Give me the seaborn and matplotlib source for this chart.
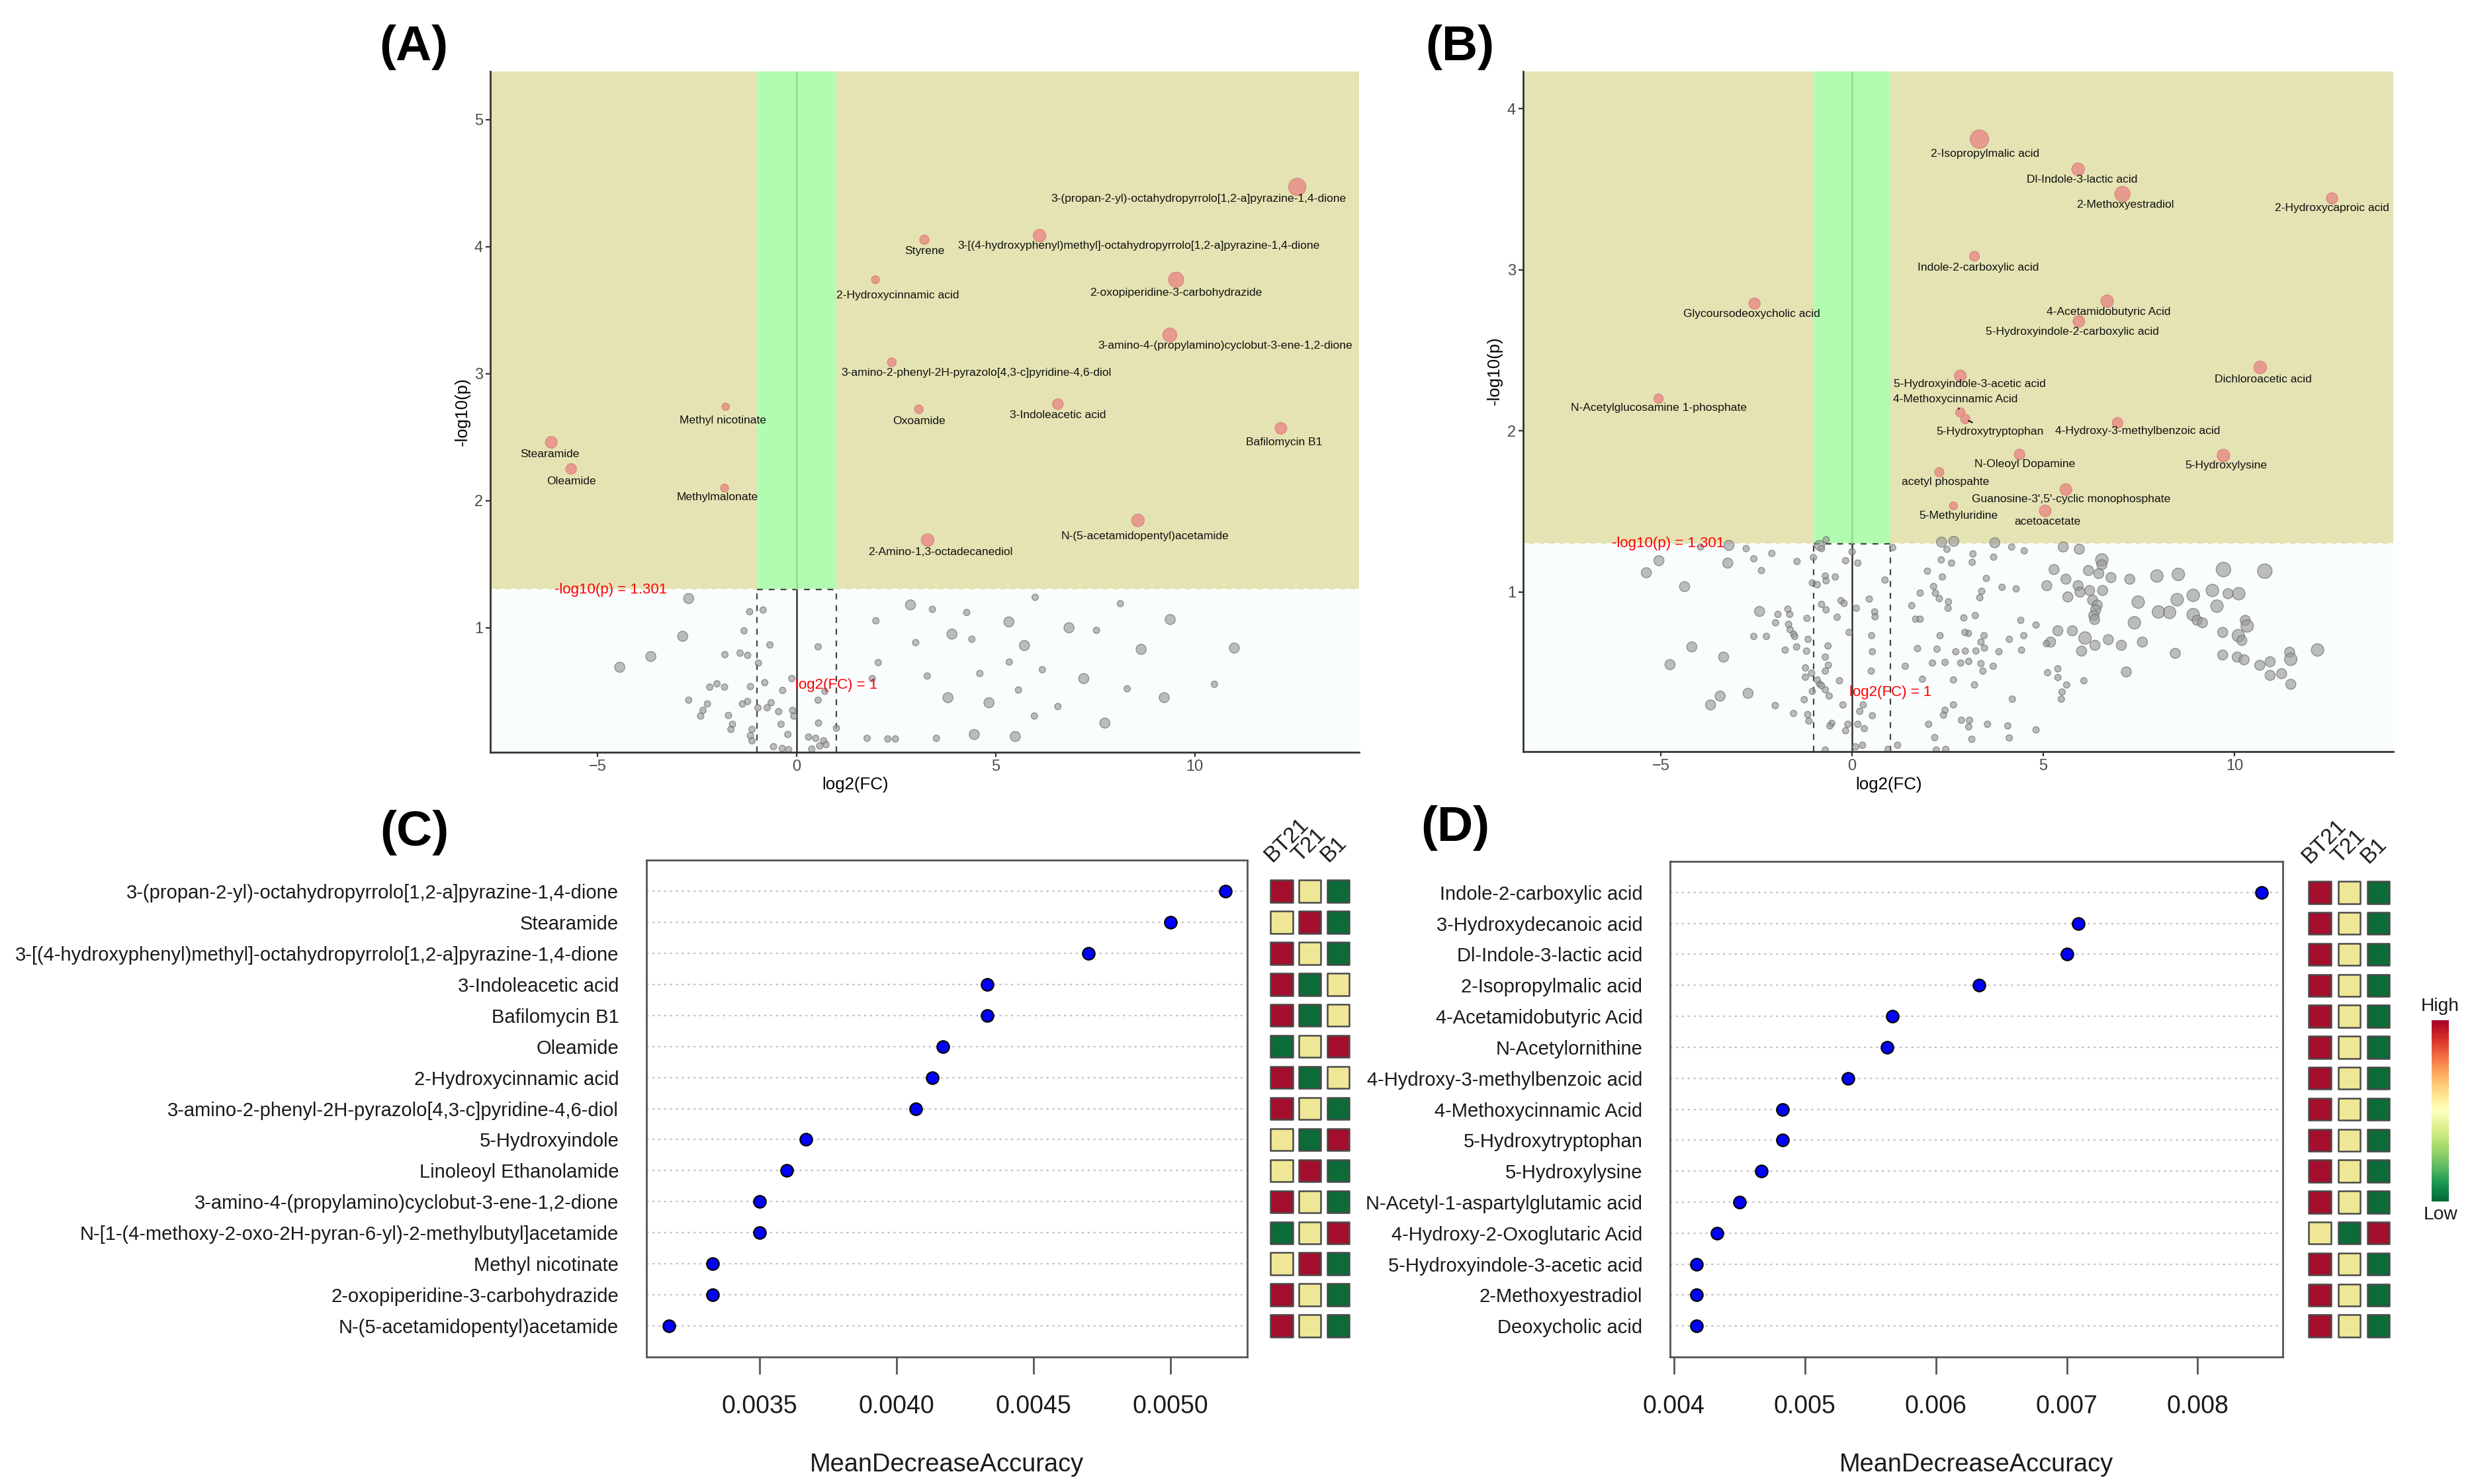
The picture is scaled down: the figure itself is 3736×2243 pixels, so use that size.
import pandas as pd
import matplotlib
matplotlib.use("Agg")
import matplotlib as mpl
import matplotlib.pyplot as plt
import seaborn as sns
from matplotlib.patches import Rectangle
from matplotlib.ticker import FormatStrFormatter

sns.set_theme(style="white")
plt.rcParams["font.family"] = ["Liberation Sans", "DejaVu Sans"]

fc_cut = 1.0
p_cut = 1.301

# ---------------- (A) volcano: significant metabolites ----------------
a_names = ["3-(propan-2-yl)-octahydropyrrolo[1,2-a]pyrazine-1,4-dione",
           "3-[(4-hydroxyphenyl)methyl]-octahydropyrrolo[1,2-a]pyrazine-1,4-dione",
           "Styrene", "2-Hydroxycinnamic acid", "2-oxopiperidine-3-carbohydrazide",
           "3-amino-4-(propylamino)cyclobut-3-ene-1,2-dione",
           "3-amino-2-phenyl-2H-pyrazolo[4,3-c]pyridine-4,6-diol",
           "Methyl nicotinate", "Oxoamide", "3-Indoleacetic acid", "Bafilomycin B1",
           "Stearamide", "Oleamide", "Methylmalonate",
           "N-(5-acetamidopentyl)acetamide", "2-Amino-1,3-octadecanediol"]
a_fc = [12.57, 6.10, 3.21, 1.98, 9.53, 9.37, 2.39, -1.78, 3.07, 6.56, 12.16,
        -6.16, -5.66, -1.81, 8.57, 3.29]
a_logp = [4.47, 4.087, 4.055, 3.74, 3.74, 3.305, 3.09, 2.74, 2.72, 2.76, 2.57,
          2.46, 2.25, 2.10, 1.845, 1.69]
a_size = [4.9, 2.84, 1.77, 1.43, 3.9, 3.35, 1.6, 1.3, 1.6, 2.15, 2.5, 2.5, 2.15,
          1.43, 2.84, 2.84]
# label offsets in points (layout)
a_dx = [-53.6, 54, 0, 12.2, 0, 30, 46, -1.4, 0, 0, 1.8, -0.7, 0, -4, 4, 6.8]
a_dy = [-6.6, -5.4, -6.1, -8.4, -7, -5.9, -5.8, -7.6, -6.4, -5.9, -7.5, -6.5,
        -6.8, -5, -8.6, -6.7]

# (A) non-significant metabolites
a_gray_fc = [-2.71, -1.18, -0.84, -1.32, -2.86, -0.67, -3.66, -4.44, -1.80, -1.42,
             -1.23, -0.96, -2.18, -2.00, -1.81, -1.16, -0.80, -0.35, -0.12, -2.71,
             -2.24, -2.35, -2.41, -1.71, -1.36, -1.23, -0.97, -0.74, -0.64, -0.45,
             -0.10, -0.07, -1.61, -1.65, -1.12, -0.39, -1.16, -1.12, -0.22, -0.58,
             -0.36, -0.20, 0.30, 0.48, 0.68, 0.58, 0.38, 0.74, 1.00, 0.55,
             0.54, 0.54, 0.71, 1.77, 2.29, 2.48, 3.51, 4.46, 5.49, 1.99,
             2.05, 1.90, 2.86, 3.41, 2.99, 3.28, 3.80, 3.90, 4.27, 4.40,
             4.60, 4.83, 5.33, 5.34, 5.72, 5.57, 5.99, 5.97, 6.17, 6.56,
             6.84, 7.21, 7.53, 7.74, 8.13, 8.30, 8.65, 9.23, 9.38, 10.49, 10.99]
a_gray_logp = [1.23, 1.126, 1.14, 0.976, 0.933, 0.865, 0.774, 0.689, 0.789, 0.80,
               0.783, 0.722, 0.533, 0.559, 0.533, 0.537, 0.568, 0.507, 0.60, 0.43,
               0.40, 0.35, 0.305, 0.31, 0.40, 0.42, 0.37, 0.37, 0.41, 0.34,
               0.35, 0.305, 0.24, 0.20, 0.20, 0.24, 0.15, 0.11, 0.16, 0.064,
               0.05, 0.04, 0.14, 0.13, 0.11, 0.07, 0.045, 0.08, 0.21, 0.25,
               0.43, 0.85, 0.50, 0.13, 0.125, 0.125, 0.13, 0.16, 0.144, 1.055,
               0.726, 0.60, 1.18, 1.145, 0.883, 0.62, 0.45, 0.95, 1.12, 0.91,
               0.64, 0.41, 1.046, 0.73, 0.86, 0.51, 1.24, 0.305, 0.67, 0.38,
               1.0, 0.60, 0.98, 0.25, 1.19, 0.52, 0.83, 0.45, 1.065, 0.555, 0.84]
a_gray_size = [2, 1, 1, 1, 2, 1, 2, 2, 1, 1,
               1, 1, 1, 1, 1, 1, 1, 1, 1, 1,
               1, 1, 1, 1, 1, 1, 1, 1, 1, 1,
               1, 1, 1, 1, 1, 1, 1, 1, 1, 1,
               1, 1, 1, 1, 1, 1, 1, 1, 1, 1,
               1, 1, 1, 1, 1, 1, 1, 2, 2, 1,
               1, 1, 2, 1, 1, 1, 2, 2, 1, 1,
               1, 2, 2, 1, 2, 1, 1, 1, 1, 1,
               2, 2, 1, 2, 1, 1, 2, 2, 2, 1, 2]

# ---------------- (B) volcano: significant metabolites ----------------
b_names = ["2-Isopropylmalic acid", "Dl-Indole-3-lactic acid", "2-Methoxyestradiol",
           "2-Hydroxycaproic acid", "Indole-2-carboxylic acid",
           "Glycoursodeoxycholic acid", "4-Acetamidobutyric Acid",
           "5-Hydroxyindole-2-carboxylic acid", "Dichloroacetic acid",
           "5-Hydroxyindole-3-acetic acid", "4-Methoxycinnamic Acid",
           "N-Acetylglucosamine 1-phosphate", "5-Hydroxytryptophan",
           "4-Hydroxy-3-methylbenzoic acid", "N-Oleoyl Dopamine", "5-Hydroxylysine",
           "acetyl phospahte", "Guanosine-3',5'-cyclic monophosphate",
           "5-Methyluridine", "acetoacetate"]
b_fc = [3.33, 5.91, 7.07, 12.55, 3.20, -2.55, 6.67, 5.93, 10.67, 2.83, 2.83,
        -5.06, 2.96, 6.94, 4.38, 9.71, 2.28, 5.59, 2.65, 5.05]
b_logp = [3.81, 3.624, 3.47, 3.443, 3.084, 2.79, 2.805, 2.68, 2.394, 2.342, 2.115,
          2.20, 2.074, 2.05, 1.854, 1.847, 1.744, 1.636, 1.535, 1.504]
b_size = [5.5, 2.84, 3.9, 2.35, 1.9, 2.35, 2.84, 2.5, 2.84, 2.5, 1.77, 1.77, 1.77,
          2.15, 2.15, 2.84, 1.77, 2.5, 1.43, 2.5]
b_dx = [3.1, 2.2, 1.3, 0, 1.9, -1.6, 0.6, -3.5, 1.6, 5, -2.8, 0, 13.5, 11, 2.8,
        1.3, 3.5, 2.8, 2.8, 1.3]
b_dy = [-7.8, -5.8, -5.7, -5.4, -6.2, -5.8, -5.8, -5.8, -6.4, -4.5, 7.1, -5.1,
        -6.8, -4.6, -5.4, -5.5, -5.4, -5.4, -5.5, -5.8]
b_linked = ["4-Methoxycinnamic Acid", "5-Hydroxytryptophan"]

# (B) non-significant metabolites
b_gray_fc = [-0.68, -0.85, -0.80, -3.22, -2.77, -3.96, -2.10, -2.57, -3.25, -5.05,
             -5.38, -2.37, -1.44, -1.01, -4.38, -0.17, 0.15, 0.00, 1.06, 2.34,
             2.66, 2.48, 3.73, 4.17, 4.50, 5.52, 5.94, 3.16, 3.70, 2.33,
             2.60, 3.14, 6.53, 6.53, 5.28, 6.18, 6.45, 6.77, 7.26, 7.97,
             8.53, 9.71, 10.79, 1.97, 2.36, 3.51, 5.59, 5.09, 5.91, 6.21,
             6.55, 5.96, 5.64, 3.92, 4.29, 3.39, 2.13, 1.78, 2.18, 2.28,
             2.52, 3.34, 9.42, 9.83, 10.11, 8.92, 8.50, 7.48, 9.54, 6.29,
             6.41, 6.37, 6.32, 6.34, 8.01, 8.30, 8.92, 9.02, 9.16, 7.38,
             10.28, 10.33, 9.69, 10.10, 10.19, 8.45, 9.69, 10.07, 10.25, 10.66,
             10.93, 11.44, 11.47, 12.17, 10.93, 11.23, 11.47, 7.17, 7.59, 7.04,
             6.70, 6.09, 6.35, 6.00, 5.76, 5.38, 5.19, 5.08, 4.81, 4.41,
             4.49, 4.11, 4.43, 3.84, 3.46, 3.45, 3.04, 2.95, 2.71, 2.96,
             3.24, 2.30, 2.22, 1.71, 2.10, 2.43, 2.84, 3.37, 3.69, 3.42,
             3.05, 1.39, 1.84, 2.65, 3.20, 5.11, 5.38, 5.38, 5.61, 6.06,
             5.49, 5.47, 4.19, 4.81, 4.07, 4.11, 3.54, 3.07, 2.86, 3.05,
             3.13, 2.65, 2.43, 2.39, 2.00, 2.16, 2.20, 2.45, 1.19, 0.94,
             0.29, 0.20, 0.53, 0.15, 0.32, 0.09, 0.27, -0.24, -0.70, -0.53,
             -0.58, -0.17, -0.11, -0.60, -0.70, -0.85, -1.04, -1.25, -1.16, -1.13,
             -1.53, -2.01, -2.72, -3.45, -3.70, -1.22, -1.06, -0.80, -0.91, -0.70,
             -0.33, 0.50, -1.22, -4.76, -3.36, -4.19, -1.75, -1.45, -1.19, -1.15,
             -0.63, -0.70, -0.62, -2.57, -2.24, -1.53, -1.50, -1.62, -1.66, -2.00,
             -1.94, -1.63, -1.68, -2.42, -1.18, -0.39, -0.68, -0.80, -0.29, -0.21,
             0.45, 0.11, 0.59, 0.60, 0.51, -0.08, 0.53, -0.70, -0.44, -0.68,
             -1.04, -0.91, 0.86, 1.56, 1.66, 1.78, 2.51, 2.92, 3.22, 3.37]
b_gray_logp = [1.325, 1.29, 1.27, 1.29, 1.27, 1.28, 1.24, 1.207, 1.18, 1.195,
               1.12, 1.134, 1.19, 1.215, 1.034, 1.195, 1.18, 1.25, 1.276, 1.31,
               1.315, 1.266, 1.306, 1.28, 1.256, 1.28, 1.266, 1.237, 1.217, 1.20,
               1.18, 1.185, 1.20, 1.17, 1.14, 1.134, 1.115, 1.09, 1.08, 1.10,
               1.11, 1.14, 1.13, 1.13, 1.094, 1.085, 1.08, 1.04, 1.04, 1.01,
               1.01, 1.00, 0.97, 1.03, 1.02, 1.005, 1.035, 0.994, 0.994, 0.96,
               0.94, 0.965, 1.01, 0.99, 0.99, 0.98, 0.953, 0.938, 0.913, 0.95,
               0.92, 0.89, 0.855, 0.83, 0.877, 0.874, 0.86, 0.825, 0.81, 0.81,
               0.825, 0.79, 0.75, 0.73, 0.70, 0.62, 0.61, 0.597, 0.58, 0.546,
               0.568, 0.627, 0.583, 0.641, 0.483, 0.494, 0.428, 0.505, 0.69, 0.67,
               0.705, 0.715, 0.67, 0.634, 0.76, 0.76, 0.69, 0.68, 0.796, 0.825,
               0.73, 0.707, 0.64, 0.63, 0.653, 0.73, 0.744, 0.75, 0.63, 0.634,
               0.635, 0.73, 0.646, 0.65, 0.56, 0.564, 0.56, 0.556, 0.54, 0.51,
               0.57, 0.54, 0.46, 0.455, 0.424, 0.50, 0.524, 0.47, 0.424, 0.45,
               0.38, 0.336, 0.336, 0.145, 0.17, 0.095, 0.18, 0.205, 0.205, 0.164,
               0.087, 0.30, 0.267, 0.237, 0.18, 0.097, 0.02, 0.024, 0.05, 0.024,
               0.30, 0.26, 0.233, 0.18, 0.153, 0.04, 0.05, 0.30, 0.02, 0.186,
               0.17, 0.14, 0.18, 0.355, 0.394, 0.43, 0.384, 0.333, 0.24, 0.20,
               0.247, 0.296, 0.372, 0.355, 0.30, 0.472, 0.497, 0.42, 0.455, 0.51,
               0.45, 0.51, 0.53, 0.55, 0.597, 0.66, 0.64, 0.66, 0.634, 0.707,
               0.666, 0.597, 0.546, 0.725, 0.725, 0.74, 0.725, 0.767, 0.80, 0.81,
               0.862, 0.862, 0.894, 0.88, 0.837, 0.844, 0.89, 0.924, 0.947, 0.93,
               0.957, 0.90, 0.877, 0.847, 0.73, 0.75, 0.63, 1.10, 1.094, 1.07,
               1.057, 1.046, 1.075, 0.916, 0.832, 0.832, 0.90, 0.84, 0.855, 0.69]
b_gray_size = [1, 2, 1, 2, 1, 1, 1, 1, 2, 2,
               2, 1, 1, 1, 2, 1, 1, 1, 1, 2,
               2, 1, 2, 1, 1, 2, 2, 1, 1, 1,
               1, 1, 3, 2, 2, 2, 2, 2, 2, 3,
               3, 4, 4, 1, 1, 1, 2, 2, 2, 2,
               2, 2, 2, 1, 1, 1, 1, 1, 1, 1,
               1, 1, 3, 2, 3, 3, 3, 3, 3, 2,
               2, 2, 2, 2, 3, 3, 3, 2, 2, 3,
               2, 3, 2, 3, 2, 2, 2, 2, 2, 2,
               2, 2, 3, 3, 2, 2, 2, 2, 2, 2,
               2, 3, 2, 2, 2, 2, 2, 1, 1, 1,
               1, 1, 1, 1, 1, 1, 1, 1, 1, 1,
               1, 1, 1, 1, 1, 1, 1, 1, 1, 1,
               1, 1, 1, 1, 1, 1, 1, 1, 1, 1,
               1, 1, 1, 1, 1, 1, 1, 1, 1, 1,
               1, 1, 1, 1, 1, 1, 1, 1, 1, 1,
               1, 1, 1, 1, 1, 1, 1, 1, 1, 1,
               1, 1, 1, 1, 1, 1, 1, 1, 1, 1,
               1, 1, 2, 2, 2, 1, 1, 1, 1, 1,
               1, 1, 1, 2, 2, 2, 1, 1, 1, 1,
               1, 1, 1, 1, 1, 1, 1, 1, 1, 1,
               1, 1, 1, 2, 1, 1, 1, 1, 1, 1,
               1, 1, 1, 1, 1, 1, 1, 1, 1, 1,
               1, 1, 1, 1, 1, 1, 1, 1, 1, 1]

# ---------------- (C) random forest importance ----------------
c_names = ["3-(propan-2-yl)-octahydropyrrolo[1,2-a]pyrazine-1,4-dione", "Stearamide",
           "3-[(4-hydroxyphenyl)methyl]-octahydropyrrolo[1,2-a]pyrazine-1,4-dione",
           "3-Indoleacetic acid", "Bafilomycin B1", "Oleamide", "2-Hydroxycinnamic acid",
           "3-amino-2-phenyl-2H-pyrazolo[4,3-c]pyridine-4,6-diol", "5-Hydroxyindole",
           "Linoleoyl Ethanolamide", "3-amino-4-(propylamino)cyclobut-3-ene-1,2-dione",
           "N-[1-(4-methoxy-2-oxo-2H-pyran-6-yl)-2-methylbutyl]acetamide",
           "Methyl nicotinate", "2-oxopiperidine-3-carbohydrazide",
           "N-(5-acetamidopentyl)acetamide"]
c_mda = [0.00520, 0.00500, 0.00470, 0.00433, 0.00433, 0.00417, 0.00413, 0.00407,
         0.00367, 0.00360, 0.00350, 0.00350, 0.00333, 0.00333, 0.00317]
# relative level per group: 1 high, 0 mid, -1 low
c_bt21 = [1, 0, 1, 1, 1, -1, 1, 1, 0, 0, 1, -1, 0, 1, 1]
c_t21 = [0, 1, 0, -1, -1, 0, -1, 0, -1, 1, 0, 0, 1, 0, 0]
c_b1 = [-1, -1, -1, 0, 0, 1, 0, -1, 1, -1, -1, 1, -1, -1, -1]

# ---------------- (D) random forest importance ----------------
d_names = ["Indole-2-carboxylic acid", "3-Hydroxydecanoic acid", "Dl-Indole-3-lactic acid",
           "2-Isopropylmalic acid", "4-Acetamidobutyric Acid", "N-Acetylornithine",
           "4-Hydroxy-3-methylbenzoic acid", "4-Methoxycinnamic Acid",
           "5-Hydroxytryptophan", "5-Hydroxylysine", "N-Acetyl-1-aspartylglutamic acid",
           "4-Hydroxy-2-Oxoglutaric Acid", "5-Hydroxyindole-3-acetic acid",
           "2-Methoxyestradiol", "Deoxycholic acid"]
d_mda = [0.00849, 0.00709, 0.00700, 0.00633, 0.00567, 0.00563, 0.00533, 0.00483,
         0.00483, 0.00467, 0.00450, 0.00433, 0.00417, 0.00417, 0.00417]
d_bt21 = [1, 1, 1, 1, 1, 1, 1, 1, 1, 1, 1, 0, 1, 1, 1]
d_t21 = [0, 0, 0, 0, 0, 0, 0, 0, 0, 0, 0, -1, 0, 0, 0]
d_b1 = [-1, -1, -1, -1, -1, -1, -1, -1, -1, -1, -1, 1, -1, -1, -1]

groups = ["BT21", "T21", "B1"]
level_names = {1: "High", 0: "Mid", -1: "Low"}
heat_colors = {"High": "#A30F2C", "Mid": "#EFE795", "Low": "#0C6B37"}
gray_sizes = {1: 12, 2: 30, 3: 46, 4: 62}


def volcano(ax, sig, ns, dx, dy, xlim, ylim, yticks, linked=()):
    x0, x1 = xlim
    y0, y1 = ylim
    ax.axhspan(p_cut, y1, color="#E5E3B3", lw=0, zorder=0)
    ax.axhspan(y0, p_cut, color="#FAFDFE", lw=0, zorder=0)
    ax.add_patch(Rectangle((-fc_cut, p_cut), 2 * fc_cut, y1 - p_cut,
                           color="#B2FCB1", lw=0, zorder=0.5))
    ax.hlines(p_cut, x0, x1, colors="white", linestyles=(0, (4, 3)), lw=0.8, zorder=1)
    ax.vlines([-fc_cut, fc_cut], y0, p_cut, colors="#444444",
              linestyles=(0, (4, 4)), lw=0.8, zorder=1)
    ax.hlines(p_cut, -fc_cut, fc_cut, colors="#444444",
              linestyles=(0, (4, 4)), lw=0.8, zorder=1)
    ax.vlines(0, y0, p_cut, colors="#333333", lw=0.9, zorder=1)
    ax.vlines(0, p_cut, y1, colors="#8FDA8F", lw=0.9, zorder=1)

    sns.scatterplot(data=ns, x="fc", y="logp", size="sz", sizes=gray_sizes,
                    color="#9A9A9A", alpha=0.65, edgecolor="#6A6A6A", linewidth=0.5,
                    legend=False, ax=ax, zorder=2)
    sns.scatterplot(data=sig, x="fc", y="logp", size="sz", sizes=(10, 110),
                    size_norm=(1, 6), color="#E8948A", alpha=0.9, edgecolor="#D8867C",
                    linewidth=0.5, legend=False, ax=ax, zorder=3)
    for i, r in sig.reset_index(drop=True).iterrows():
        props = None
        if r["name"] in linked:
            props = dict(arrowstyle="-", color="black", lw=0.7, shrinkA=0, shrinkB=2)
        ax.annotate(r["name"], (r["fc"], r["logp"]), xytext=(dx[i], dy[i]),
                    textcoords="offset points", ha="center", va="center",
                    fontsize=6.3, color="#111111", zorder=4, arrowprops=props)

    ax.set_xlim(x0, x1)
    ax.set_ylim(y0, y1)
    ax.set_xticks([-5, 0, 5, 10])
    ax.set_yticks(yticks)
    ax.spines[["top", "right"]].set_visible(False)
    for s in ["left", "bottom"]:
        ax.spines[s].set_color("#333333")
        ax.spines[s].set_linewidth(1.0)
    ax.tick_params(axis="both", bottom=True, left=True, length=2.5, width=0.8,
                   color="#333333", labelcolor="#4D4D4D", labelsize=8.5, pad=1.5)
    ax.set_xlabel("log2(FC)", fontsize=9.3, color="black")
    ax.set_ylabel("-log10(p)", fontsize=9.3, color="black")


def dotchart(ax, hax, names, mda, bt21, t21, b1, xlim, xticks, fmt):
    df = pd.DataFrame({"name": names, "mda": mda})
    sns.scatterplot(data=df, x="mda", y="name", color="#0000FF", edgecolor="black",
                    linewidth=0.8, s=44, legend=False, ax=ax, zorder=3)
    ax.grid(True, axis="y", color="#C4C4C4", linestyle=(0, (1.5, 2.5)), lw=0.8)
    ax.grid(False, axis="x")
    ax.set_ylim(len(names), -1)
    ax.set_xlim(*xlim)
    ax.set_xticks(xticks)
    ax.xaxis.set_major_formatter(FormatStrFormatter(fmt))
    ax.tick_params(axis="y", left=False, length=0, pad=15, labelsize=10.5,
                   labelcolor="#1A1A1A")
    ax.tick_params(axis="x", bottom=True, length=9.5, width=1.0, color="#555555",
                   pad=11, labelsize=13.5, labelcolor="#1A1A1A")
    for s in ax.spines.values():
        s.set_color("#555555")
        s.set_linewidth(1.0)
    ax.set_ylabel("")
    ax.set_xlabel("MeanDecreaseAccuracy", fontsize=13.7, color="#1A1A1A")
    ax.xaxis.set_label_coords(0.5, -0.193)

    heat = pd.concat([pd.DataFrame({"name": names, "group": g,
                                    "level": [level_names[v] for v in vals]})
                      for g, vals in zip(groups, [bt21, t21, b1])])
    sns.scatterplot(data=heat, x="group", y="name", hue="level", palette=heat_colors,
                    marker="s", s=145, edgecolor="#4A4A4A", linewidth=0.9,
                    legend=False, ax=hax)
    hax.set_xlim(-0.5, len(groups) - 0.5)
    hax.set_ylim(len(names), -1)
    hax.axis("off")
    for i, g in enumerate(groups):
        hax.text(i - 0.24, -0.8, g, rotation=45, rotation_mode="anchor",
                 ha="left", va="bottom", fontsize=12, color="#1A1A1A")


fig = plt.figure(figsize=(18.685, 11.215), dpi=200)
axA = fig.add_axes([0.1983, 0.4931, 0.3513, 0.4588])
axB = fig.add_axes([0.6160, 0.4935, 0.3519, 0.4583])
axC = fig.add_axes([0.2614, 0.0856, 0.2430, 0.3348])
hC = fig.add_axes([0.5126, 0.0856, 0.03433, 0.3348])
axD = fig.add_axes([0.6754, 0.0856, 0.2478, 0.3339])
hD = fig.add_axes([0.9323, 0.0856, 0.0355, 0.3339])
cax = fig.add_axes([0.9834, 0.1904, 0.00696, 0.1222])

sigA = pd.DataFrame({"name": a_names, "fc": a_fc, "logp": a_logp, "sz": a_size})
nsA = pd.DataFrame({"fc": a_gray_fc, "logp": a_gray_logp, "sz": a_gray_size})
volcano(axA, sigA, nsA, a_dx, a_dy, (-7.69, 14.12), (0.02, 5.38), [1, 2, 3, 4, 5])
axA.text(-4.67, p_cut, "-log10(p) = 1.301", color="red", fontsize=8,
         ha="center", va="center", zorder=4)
axA.text(fc_cut, 0.55, "log2(FC) = 1", color="red", fontsize=8,
         ha="center", va="center", zorder=4)
axA.xaxis.set_label_coords(0.42, -0.036)
axA.yaxis.set_label_coords(-0.023, 0.5)

sigB = pd.DataFrame({"name": b_names, "fc": b_fc, "logp": b_logp, "sz": b_size})
nsB = pd.DataFrame({"fc": b_gray_fc, "logp": b_gray_logp, "sz": b_gray_size})
volcano(axB, sigB, nsB, b_dx, b_dy, (-8.6, 14.15), (0.01, 4.23), [1, 2, 3, 4],
        linked=b_linked)
axB.text(-4.81, p_cut, "-log10(p) = 1.301", color="red", fontsize=8,
         ha="center", va="center", zorder=4)
axB.text(fc_cut, 0.377, "log2(FC) = 1", color="red", fontsize=8,
         ha="center", va="center", zorder=4)
axB.xaxis.set_label_coords(0.42, -0.037)
axB.yaxis.set_label_coords(-0.024, 0.56)

dotchart(axC, hC, c_names, c_mda, c_bt21, c_t21, c_b1, (0.003087, 0.00528),
         [0.0035, 0.0040, 0.0045, 0.0050], "%.4f")
dotchart(axD, hD, d_names, d_mda, d_bt21, d_t21, d_b1, (0.00397, 0.00865),
         [0.004, 0.005, 0.006, 0.007, 0.008], "%.3f")

cb = mpl.colorbar.ColorbarBase(cax, cmap=mpl.colormaps["RdYlGn_r"], orientation="vertical")
cb.set_ticks([])
cb.outline.set_visible(False)
fig.text(0.9869, 0.3219, "High", ha="center", va="center", fontsize=10.2, color="#1A1A1A")
fig.text(0.9869, 0.1815, "Low", ha="center", va="center", fontsize=10.2, color="#1A1A1A")

for lab, x, y in [("(A)", 0.1533, 0.968), ("(B)", 0.5765, 0.968),
                  ("(C)", 0.1536, 0.439), ("(D)", 0.5745, 0.442)]:
    fig.text(x, y, lab, fontsize=27, fontweight="bold", ha="left", va="center",
             color="black")

fig.savefig("out.png", dpi=200)
